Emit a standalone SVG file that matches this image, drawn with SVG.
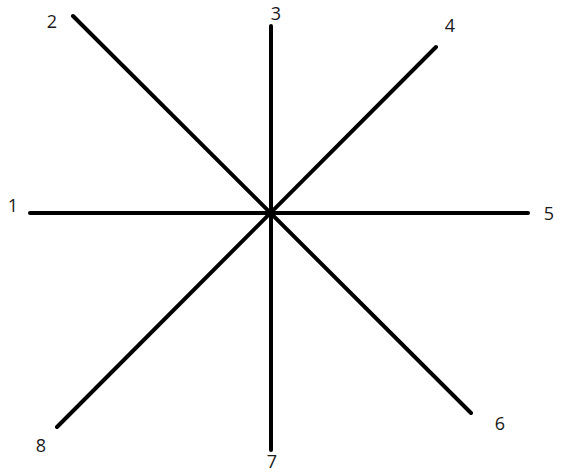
<svg xmlns="http://www.w3.org/2000/svg" width="561" height="472" viewBox="0 0 561 472">
<style>
.l{stroke:#000;stroke-width:4;stroke-linecap:round;fill:none}
.t{font-family:"Open Sans","Liberation Sans",sans-serif;font-size:18px;fill:#1a1a1a;text-anchor:middle}
</style>
<rect width="561" height="472" fill="#fff"/>
<g id="connectors">
<line class="l" x1="30" y1="213" x2="528" y2="213"/>
<line class="l" x1="271" y1="26" x2="271" y2="450"/>
<line class="l" x1="73" y1="16" x2="471" y2="413"/>
<line class="l" x1="436" y1="47" x2="57" y2="427"/>
</g>
<g id="n1"><text class="t" x="13" y="212">1</text></g>
<g id="n2"><text class="t" x="52" y="28">2</text></g>
<g id="n3"><text class="t" x="276" y="20">3</text></g>
<g id="n4"><text class="t" x="450" y="32">4</text></g>
<g id="n5"><text class="t" x="549" y="220">5</text></g>
<g id="n6"><text class="t" x="500" y="430">6</text></g>
<g id="n7"><text class="t" x="272" y="468">7</text></g>
<g id="n8"><text class="t" x="41" y="452">8</text></g>
</svg>
